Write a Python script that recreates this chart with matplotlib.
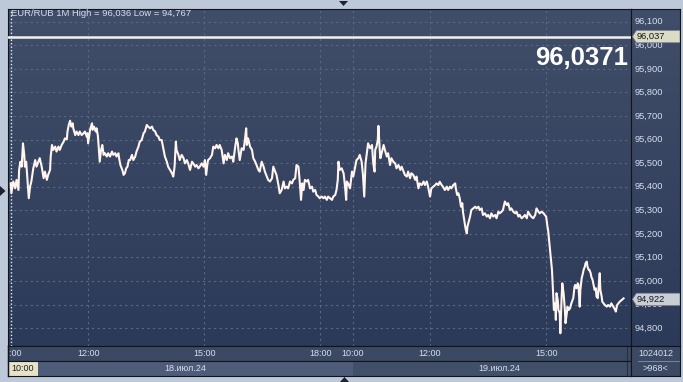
"""EUR/RUB 1-minute chart, 18-19 Jul 2024 (two MOEX sessions 10:00-18:50)."""

import numpy as np
import matplotlib
matplotlib.use("Agg")
import matplotlib.pyplot as plt
from matplotlib.colors import LinearSegmentedColormap
from matplotlib.patches import Rectangle, Polygon
from matplotlib.lines import Line2D

TITLE = "EUR/RUB 1M High = 96,036 Low = 94,767"
LAST_BIG = "96,0371"
HIGH_TAG = 96.037
LAST_TAG = 94.922
SESSION_MIN = 530  # 10:00 -> 18:50

# minutes after 10:00, 18.07.24
DAY1_MIN = [0, 1, 4, 7, 9, 12, 13, 15, 17, 19, 21, 22, 24, 26, 28, 30, 32, 35, 38, 40,
            43, 45, 48, 51, 53, 56, 58, 61, 62, 64, 66, 69, 71, 74, 76, 79, 82, 84, 87, 88,
            90, 92, 94, 96, 97, 100, 102, 105, 107, 110, 113, 115, 118, 119, 120, 123, 126, 127, 129, 132,
            133, 135, 136, 138, 140, 142, 144, 146, 149, 151, 154, 157, 159, 162, 164, 167, 168, 170, 173, 175,
            177, 179, 181, 183, 185, 188, 190, 193, 195, 198, 200, 203, 206, 208, 211, 213, 216, 219, 221, 224,
            226, 229, 231, 234, 237, 239, 242, 244, 247, 250, 252, 254, 256, 257, 260, 262, 265, 268, 270, 273,
            275, 278, 281, 283, 286, 288, 291, 293, 296, 299, 301, 303, 305, 306, 309, 312, 314, 317, 319, 322,
            324, 327, 330, 332, 335, 337, 340, 343, 345, 348, 350, 352, 353, 355, 358, 361, 363, 365, 366, 368,
            371, 374, 376, 379, 381, 384, 386, 389, 392, 394, 397, 399, 402, 405, 407, 410, 412, 415, 417, 420,
            423, 425, 428, 430, 433, 436, 438, 441, 443, 446, 448, 450, 452, 454, 456, 459, 461, 464, 467, 469,
            472, 474, 477, 479, 482, 485, 487, 490, 492, 495, 498, 500, 503, 505, 507, 508, 510, 513, 516, 518,
            520, 521, 523, 526, 529]
DAY1_PRICE = [95.414, 95.372, 95.422, 95.393, 95.429, 95.386, 95.471, 95.506, 95.485, 95.584,
              95.535, 95.485, 95.506, 95.429, 95.351, 95.400, 95.422, 95.478, 95.513, 95.485,
              95.506, 95.521, 95.485, 95.436, 95.464, 95.429, 95.450, 95.471, 95.528, 95.577,
              95.556, 95.570, 95.549, 95.570, 95.556, 95.577, 95.591, 95.605, 95.601, 95.634,
              95.662, 95.680, 95.655, 95.669, 95.648, 95.619, 95.634, 95.619, 95.634, 95.619,
              95.627, 95.634, 95.612, 95.627, 95.584, 95.641, 95.669, 95.641, 95.655, 95.634,
              95.648, 95.619, 95.584, 95.506, 95.556, 95.577, 95.535, 95.542, 95.528, 95.542,
              95.528, 95.549, 95.535, 95.542, 95.528, 95.542, 95.521, 95.492, 95.471, 95.450,
              95.457, 95.478, 95.485, 95.513, 95.513, 95.535, 95.513, 95.528, 95.549, 95.570,
              95.591, 95.598, 95.627, 95.634, 95.662, 95.655, 95.648, 95.655, 95.641, 95.634,
              95.619, 95.612, 95.598, 95.598, 95.556, 95.528, 95.506, 95.485, 95.471, 95.457,
              95.443, 95.485, 95.591, 95.556, 95.535, 95.513, 95.535, 95.521, 95.499, 95.513,
              95.499, 95.471, 95.506, 95.499, 95.485, 95.492, 95.478, 95.485, 95.499, 95.485,
              95.513, 95.450, 95.499, 95.513, 95.521, 95.535, 95.570, 95.563, 95.577, 95.563,
              95.577, 95.556, 95.499, 95.535, 95.513, 95.542, 95.521, 95.528, 95.506, 95.570,
              95.605, 95.584, 95.556, 95.513, 95.563, 95.556, 95.598, 95.648, 95.577, 95.605,
              95.570, 95.556, 95.521, 95.506, 95.492, 95.471, 95.464, 95.506, 95.485, 95.464,
              95.443, 95.429, 95.422, 95.436, 95.485, 95.464, 95.450, 95.407, 95.372, 95.386,
              95.422, 95.393, 95.400, 95.393, 95.422, 95.414, 95.429, 95.436, 95.492, 95.485,
              95.422, 95.344, 95.414, 95.386, 95.429, 95.422, 95.429, 95.393, 95.400, 95.379,
              95.386, 95.365, 95.358, 95.351, 95.358, 95.351, 95.358, 95.344, 95.358, 95.351,
              95.344, 95.358, 95.365, 95.386, 95.429, 95.506, 95.471, 95.478, 95.457, 95.407,
              95.344, 95.422, 95.414, 95.393, 95.464]

# minutes after 10:00, 19.07.24
DAY2_MIN = [1, 4, 6, 9, 11, 14, 16, 18, 20, 22, 24, 27, 30, 32, 34, 35, 37, 39, 40, 42,
            43, 45, 48, 50, 53, 55, 58, 60, 63, 66, 68, 71, 74, 76, 79, 81, 84, 86, 89, 91,
            94, 97, 99, 102, 104, 107, 110, 112, 115, 117, 120, 122, 125, 128, 130, 133, 135, 138, 140, 143,
            146, 148, 151, 153, 156, 159, 160, 162, 164, 166, 168, 170, 171, 173, 175, 177, 178, 180, 182, 184,
            187, 190, 192, 195, 197, 200, 202, 205, 208, 210, 213, 215, 218, 221, 223, 226, 228, 231, 233, 236,
            239, 241, 244, 246, 249, 252, 254, 257, 259, 262, 265, 267, 270, 272, 275, 277, 280, 283, 285, 288,
            290, 293, 296, 298, 300, 302, 303, 304, 306, 307, 309, 311, 312, 314, 315, 316, 318, 319, 321, 322,
            324, 325, 327, 329, 330, 332, 333, 335, 337, 339, 342, 344, 345, 347, 349, 350, 352, 353, 355, 357,
            358, 360, 361, 363, 364, 366, 367, 369, 370, 372, 374, 375, 377, 378, 380, 381, 383, 384, 386, 387,
            389, 391, 394, 396, 399, 401, 404, 407, 408, 410, 412, 414, 417, 420]
DAY2_PRICE = [95.443, 95.485, 95.513, 95.521, 95.535, 95.506, 95.450, 95.358, 95.499, 95.542,
              95.584, 95.563, 95.577, 95.499, 95.464, 95.556, 95.570, 95.598, 95.658, 95.556,
              95.521, 95.542, 95.577, 95.556, 95.528, 95.542, 95.492, 95.521, 95.506, 95.499,
              95.478, 95.492, 95.471, 95.485, 95.464, 95.450, 95.443, 95.464, 95.436, 95.457,
              95.450, 95.429, 95.443, 95.393, 95.414, 95.407, 95.422, 95.407, 95.422, 95.400,
              95.358, 95.393, 95.400, 95.407, 95.414, 95.407, 95.421, 95.407, 95.400, 95.386,
              95.400, 95.386, 95.400, 95.393, 95.407, 95.414, 95.393, 95.365, 95.372, 95.351,
              95.315, 95.330, 95.294, 95.259, 95.223, 95.202, 95.231, 95.252, 95.273, 95.301,
              95.308, 95.315, 95.308, 95.315, 95.301, 95.308, 95.280, 95.287, 95.273, 95.280,
              95.266, 95.287, 95.273, 95.280, 95.266, 95.294, 95.287, 95.294, 95.301, 95.337,
              95.322, 95.330, 95.301, 95.308, 95.294, 95.287, 95.294, 95.273, 95.280, 95.266,
              95.273, 95.280, 95.266, 95.294, 95.280, 95.273, 95.266, 95.280, 95.308, 95.294,
              95.287, 95.294, 95.287, 95.280, 95.273, 95.231, 95.216, 95.188, 95.132, 95.103,
              95.047, 94.934, 94.877, 94.905, 94.835, 94.948, 94.919, 94.877, 94.863, 94.778,
              94.934, 94.990, 94.948, 94.877, 94.821, 94.863, 94.891, 94.877, 94.884, 94.905,
              94.927, 94.976, 94.983, 94.969, 94.990, 94.983, 94.891, 94.962, 95.011, 95.033,
              95.047, 95.061, 95.075, 95.082, 95.061, 95.047, 95.047, 95.033, 95.018, 95.004,
              94.976, 94.962, 94.969, 94.934, 94.927, 94.962, 95.033, 94.962, 94.934, 94.912,
              94.905, 94.898, 94.891, 94.898, 94.891, 94.905, 94.891, 94.877, 94.870, 94.898,
              94.905, 94.912, 94.919, 94.926]

Y_TICKS = [94.8, 94.9, 95.0, 95.1, 95.2, 95.3, 95.4, 95.5, 95.6, 95.7, 95.8, 95.9, 96.0, 96.1]
# (session day, minutes after 10:00, label)
X_TICKS = [(0, 0, "10:00"), (0, 120, "12:00"), (0, 300, "15:00"), (0, 480, "18:00"),
           (1, 0, "10:00"), (1, 120, "12:00"), (1, 300, "15:00")]
DAY_LABELS = ["18.июл.24", "19.июл.24"]

W, H = 683, 382
XLIM = (-4.2, 961.5)
YLIM = (94.724, 96.154)

BG = "#bdc9d9"
TOP, BOT = "#414e69", "#2c3a59"
GRID = "#5a6883"
TXT = "#d6deee"
FONT = "Liberation Sans"


def box(l, t, r, b):
    return [l / W, 1 - b / H, (r - l) / W, (b - t) / H]


def fx(x):
    return x / W


def fy(y):
    return 1 - y / H


def gradient(ax):
    cmap = LinearSegmentedColormap.from_list("panel", [TOP, BOT])
    ax.imshow(np.linspace(0, 1, 256).reshape(-1, 1), extent=(0, 1, 0, 1),
              transform=ax.transAxes, cmap=cmap, aspect="auto", zorder=0)


def bare(ax):
    ax.set_xticks([])
    ax.set_yticks([])
    for s in ax.spines.values():
        s.set_color("#111418")
        s.set_linewidth(0.8)


def main():
    plt.rcParams["font.family"] = [FONT, "DejaVu Sans"]
    fig = plt.figure(figsize=(W / 100, H / 100), dpi=100, facecolor=BG)

    pos = lambda day, m: m + day * SESSION_MIN
    xs = [pos(0, m) for m in DAY1_MIN] + [pos(1, m) for m in DAY2_MIN]
    ys = DAY1_PRICE + DAY2_PRICE

    # main price panel
    ax = fig.add_axes(box(8, 9, 631, 346))
    gradient(ax)
    bare(ax)
    ax.set_xlim(*XLIM)
    ax.set_ylim(*YLIM)
    for v in Y_TICKS:
        ax.axhline(v, color=GRID, lw=0.8, ls=(0, (2, 3)), zorder=1)
    for day, m, _ in X_TICKS:
        if day == 0 and m == 0:
            ax.axvline(pos(day, m), color="#e8eef8", lw=1, ls=(0, (1, 1.5)), zorder=2)
        else:
            ax.axvline(pos(day, m), color=GRID, lw=0.8, ls=(0, (2, 3)), zorder=1)
    ax.axhline(HIGH_TAG, color="#f2f0ea", lw=1.8, zorder=3)
    ax.plot(xs, ys, color="#fff4ee", lw=1.5, zorder=4)

    # right price scale
    rax = fig.add_axes(box(631, 9, 680, 346))
    gradient(rax)
    bare(rax)
    rax.set_xlim(0, 1)
    rax.set_ylim(*YLIM)
    for v in Y_TICKS:
        lab = f"{v:.3f}".replace(".", ",")
        rax.text(0.07, v, lab, color=TXT, fontsize=6.7, va="center", ha="left", zorder=2)
    hh = 0.026
    for v, col in ((HIGH_TAG, "#dadcc6"), (LAST_TAG, "#c9cdd4")):
        pts = [(0.03, v), (0.11, v + hh), (1.0, v + hh), (1.0, v - hh), (0.11, v - hh)]
        rax.add_patch(Polygon(pts, closed=True, fc=col, ec="#7a8090", lw=0.5, zorder=3))
        rax.text(0.11, v, f"{v:.3f}".replace(".", ","), color="#15181e",
                 fontsize=6.7, va="center", ha="left", zorder=4)

    # time row
    bax = fig.add_axes(box(8, 346, 631, 361))
    bax.set_facecolor("#3b4964")
    bare(bax)
    bax.set_xlim(*XLIM)
    bax.set_ylim(0, 1)
    for day, m, lab in X_TICKS:
        bax.text(pos(day, m), 0.5, lab, color=TXT, fontsize=6.5,
                 ha="center", va="center", clip_on=True)

    # date row
    dax = fig.add_axes(box(8, 361, 631, 376))
    dax.set_facecolor("#415069")
    bare(dax)
    dax.set_xlim(*XLIM)
    dax.set_ylim(0, 1)
    dax.add_patch(Rectangle((XLIM[0], 0), SESSION_MIN - XLIM[0], 1, fc="#4e5c79", ec="none"))
    dax.add_patch(Rectangle((XLIM[0], 0), 46.5, 1, fc="#e6e3c9", ec="none"))
    dax.text(1.5, 0.5, "10:00", color="#1c1f24", fontsize=6.5, ha="left", va="center")
    dax.text(pos(0, 270), 0.5, DAY_LABELS[0], color=TXT, fontsize=6.5, ha="center", va="center")
    dax.text(pos(1, 227), 0.5, DAY_LABELS[1], color=TXT, fontsize=6.5, ha="center", va="center")
    for a in (bax, dax):
        a.axvline(950 + 6, color="#262f44", lw=0.8)

    # corner counters
    cax = fig.add_axes(box(631, 346, 680, 376))
    cax.set_facecolor("#3b4964")
    bare(cax)
    cax.set_xlim(0, 1)
    cax.set_ylim(0, 1)
    cax.text(0.5, 0.76, "1024012", color=TXT, fontsize=6.5, ha="center", va="center")
    cax.text(0.5, 0.26, ">968<", color=TXT, fontsize=6.5, ha="center", va="center")
    cax.plot([0.15, 0.97], [0.5, 0.5], color="#8290a8", lw=0.6)

    # header text and last quote
    fig.text(fx(11), fy(14), TITLE, color=TXT, fontsize=6.8, va="center", ha="left")
    fig.text(fx(628), fy(58), LAST_BIG, color="white", fontsize=18.5, weight="bold",
             va="center", ha="right")

    # small scroll markers
    for pts in ([(339, 1), (348, 1), (343.5, 6)],
                [(340, 382), (349, 382), (344.5, 377)],
                [(0, 186), (0, 196), (5.5, 191)]):
        fig.add_artist(Polygon([(fx(x), fy(y)) for x, y in pts], closed=True,
                               transform=fig.transFigure, fc="#1d2230", ec="none"))

    fig.add_artist(Line2D([fx(8), fx(8)], [fy(346), fy(376)], color="#111418", lw=1))

    fig.savefig("out.png", dpi=100, facecolor=BG)


if __name__ == "__main__":
    main()
